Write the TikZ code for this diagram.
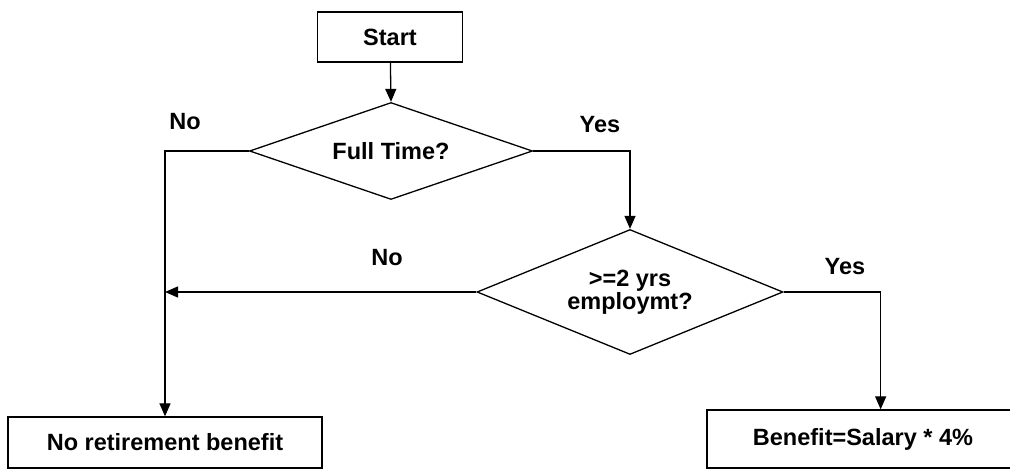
\documentclass[tikz,border=0pt]{standalone}
\usepackage{fontspec}
\setmainfont{Liberation Sans}
\usetikzlibrary{arrows.meta,shapes.geometric}
\begin{document}
\begin{tikzpicture}[>={Triangle[length=13pt,width=11pt]},x=1pt,y=-1pt,line width=1.3pt,
	font=\fontsize{23.5}{23}\selectfont\bfseries,
	hop/.style={draw,rectangle,inner sep=0pt},
	hoi/.style={draw,diamond,inner sep=0pt,align=center}]
	\useasboundingbox (0,0) rectangle (1010,470);
	\node[hop,minimum width=145pt,minimum height=50pt] (start) at (390,37) {Start};
	\node[hoi,aspect=2.9,minimum width=283pt,minimum height=97pt] (q1) at (391,151) {Full Time?};
	\node[hoi,aspect=2.45,minimum width=306pt,minimum height=125pt] (q2) at (630,292) {>=2 yrs\\employmt?};
	\node[hop,minimum width=314pt,minimum height=51pt] (nob) at (165,442.5) {No retirement benefit};
	\node[hop,minimum width=312pt,minimum height=58pt] (ben) at (863,439) {Benefit=Salary * 4\%};
	% nhãn nhánh
	\node (no1) at (185,122) {No};
	\node (yes1) at (600,125) {Yes};
	\node (no2) at (387,258) {No};
	\node (yes2) at (845,267) {Yes};
	\draw[->] (start) -- (q1.north);
	\draw[->] (q1.west) -| (nob.north);
	\draw[->] (q1.east) -| (q2.north);
	\draw[->] (q2.west) -- (q2.west -| nob.north);
	\draw[->] (q2.east) -- ++(97,0) coordinate (re) -- (re |- ben.north);
\end{tikzpicture}
\end{document}
